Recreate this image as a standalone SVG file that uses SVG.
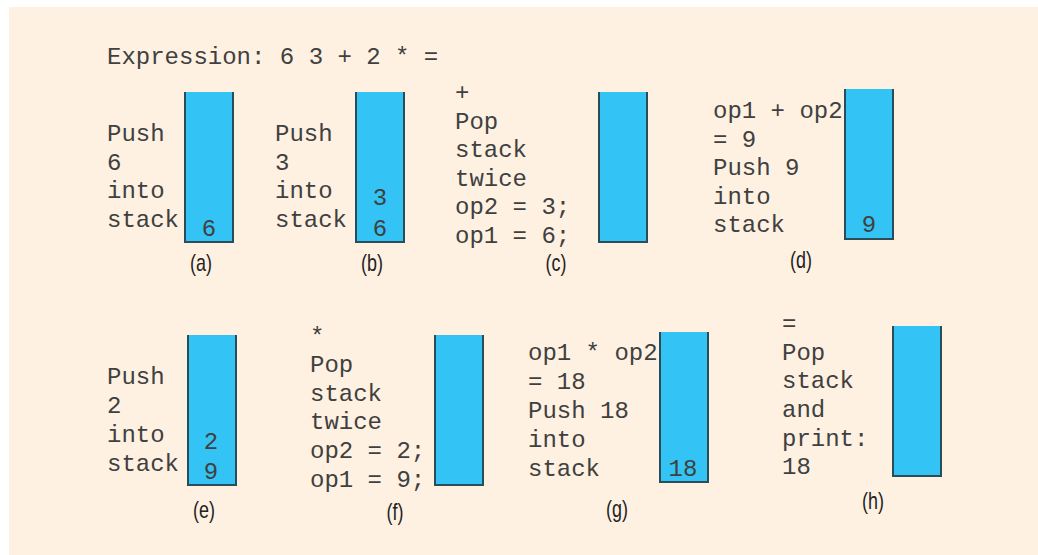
<svg xmlns="http://www.w3.org/2000/svg" width="1038" height="555" viewBox="0 0 1038 555">
<style>
.bg{fill:#fef1e2}
.fill{fill:#33c4f5}
.edge{fill:none;stroke:#2b4d5a;stroke-width:2}
.t{font-family:"Liberation Mono","Courier New",monospace;font-size:24px;fill:#404040}
.lbl{font-family:"Liberation Sans Narrow","Liberation Sans",sans-serif;font-size:23px;fill:#222;text-anchor:middle}
.c{text-anchor:middle}
</style>
<rect class="bg" x="9" y="7" width="1029" height="548"/>
<text class="t" x="107" y="64" xml:space="preserve">Expression: 6 3 + 2 * =</text>

<g id="a">
<text class="t"><tspan x="107" y="141">Push</tspan><tspan x="107" y="169.5">6</tspan><tspan x="107" y="198">into</tspan><tspan x="107" y="227">stack</tspan></text>
<rect class="fill" x="185" y="92" width="48" height="150"/>
<path class="edge" d="M185,92V242H233V92"/>
<text class="t c" x="209" y="236">6</text>
<text class="lbl" transform="translate(201,271) scale(0.78,1)">(a)</text>
</g>

<g id="b">
<text class="t"><tspan x="275" y="141">Push</tspan><tspan x="275" y="169.5">3</tspan><tspan x="275" y="198">into</tspan><tspan x="275" y="227">stack</tspan></text>
<rect class="fill" x="356" y="92" width="48" height="150"/>
<path class="edge" d="M356,92V242H404V92"/>
<text class="t c" x="380" y="205">3</text>
<text class="t c" x="380" y="236">6</text>
<text class="lbl" transform="translate(372,271) scale(0.78,1)">(b)</text>
</g>

<g id="c">
<text class="t" xml:space="preserve"><tspan x="455" y="100">+</tspan><tspan x="455" y="129">Pop</tspan><tspan x="455" y="157">stack</tspan><tspan x="455" y="186">twice</tspan><tspan x="455" y="214">op2 = 3;</tspan><tspan x="455" y="243">op1 = 6;</tspan></text>
<rect class="fill" x="599" y="92" width="48" height="150"/>
<path class="edge" d="M599,92V242H647V92"/>
<text class="lbl" transform="translate(556,271) scale(0.78,1)">(c)</text>
</g>

<g id="d">
<text class="t" xml:space="preserve"><tspan x="713" y="118">op1 + op2</tspan><tspan x="713" y="147">= 9</tspan><tspan x="713" y="175">Push 9</tspan><tspan x="713" y="204">into</tspan><tspan x="713" y="232">stack</tspan></text>
<rect class="fill" x="845" y="89" width="48" height="150"/>
<path class="edge" d="M845,89V239H893V89"/>
<text class="t c" x="869" y="232">9</text>
<text class="lbl" transform="translate(801,268) scale(0.78,1)">(d)</text>
</g>

<g id="e">
<text class="t"><tspan x="107" y="384">Push</tspan><tspan x="107" y="413">2</tspan><tspan x="107" y="442">into</tspan><tspan x="107" y="471">stack</tspan></text>
<rect class="fill" x="188" y="335" width="48" height="150"/>
<path class="edge" d="M188,335V485H236V335"/>
<text class="t c" x="211" y="449">2</text>
<text class="t c" x="211" y="479">9</text>
<text class="lbl" transform="translate(204,518) scale(0.78,1)">(e)</text>
</g>

<g id="f">
<text class="t" xml:space="preserve"><tspan x="310" y="344">*</tspan><tspan x="310" y="372">Pop</tspan><tspan x="310" y="401">stack</tspan><tspan x="310" y="429">twice</tspan><tspan x="310" y="458">op2 = 2;</tspan><tspan x="310" y="487">op1 = 9;</tspan></text>
<rect class="fill" x="435" y="335" width="48" height="150"/>
<path class="edge" d="M435,335V485H483V335"/>
<text class="lbl" transform="translate(395,520) scale(0.78,1)">(f)</text>
</g>

<g id="g">
<text class="t" xml:space="preserve"><tspan x="528" y="360">op1 * op2</tspan><tspan x="528" y="389">= 18</tspan><tspan x="528" y="418">Push 18</tspan><tspan x="528" y="447">into</tspan><tspan x="528" y="476">stack</tspan></text>
<rect class="fill" x="660" y="332" width="48" height="150"/>
<path class="edge" d="M660,332V482H708V332"/>
<text class="t c" x="683" y="476">18</text>
<text class="lbl" transform="translate(617,517) scale(0.78,1)">(g)</text>
</g>

<g id="h">
<text class="t" xml:space="preserve"><tspan x="782" y="331">=</tspan><tspan x="782" y="360">Pop</tspan><tspan x="782" y="388">stack</tspan><tspan x="782" y="417">and</tspan><tspan x="782" y="446">print:</tspan><tspan x="782" y="474">18</tspan></text>
<rect class="fill" x="893" y="326" width="48" height="150"/>
<path class="edge" d="M893,326V476H941V326"/>
<text class="lbl" transform="translate(873,509) scale(0.78,1)">(h)</text>
</g>
</svg>
